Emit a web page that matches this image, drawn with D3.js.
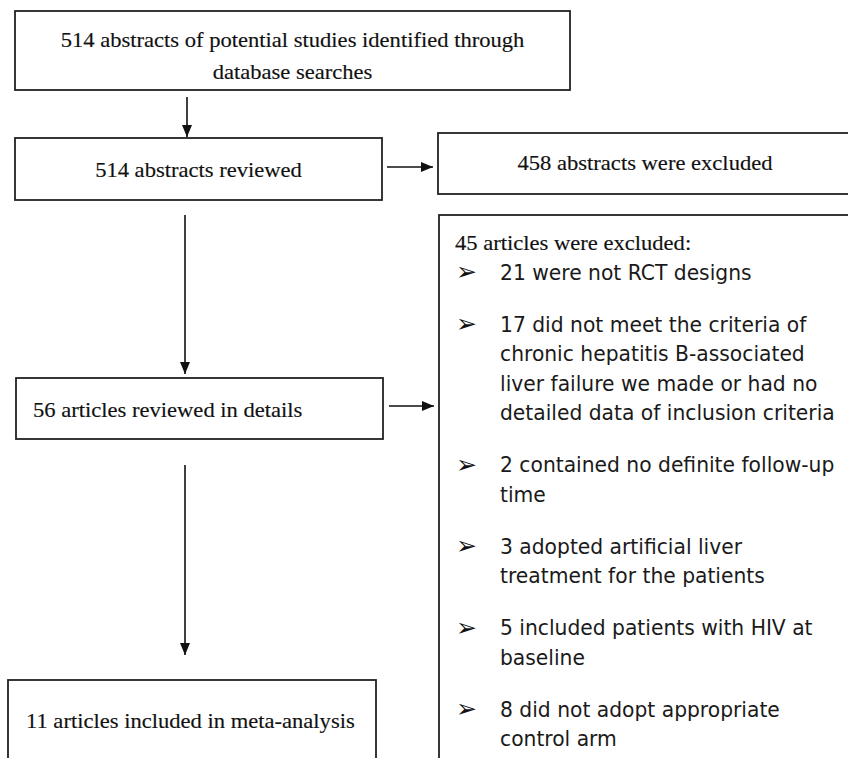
<!DOCTYPE html>
<html>
<head>
<meta charset="utf-8">
<script src="https://cdn.jsdelivr.net/npm/d3@7"></script>
<style>
  body { margin: 0; background: #fff; }
  svg { display: block; }
</style>
</head>
<body>
<div id="chart"></div>
<script>
// flow counts + labels ("{n}" gets the count)
const mainCounts = [514, 514, 56, 11];
const mainLabels = [
  ["{n} abstracts of potential studies identified through", "database searches"],
  ["{n} abstracts reviewed"],
  ["{n} articles reviewed in details"],
  ["{n} articles included in meta-analysis"]
];
const excludedCounts = [458, 45];
const excludedLabels = ["{n} abstracts were excluded", "{n} articles were excluded:"];
const reasonCounts = [21, 17, 2, 3, 5, 8];
const reasonLines = [
  ["{n} were not RCT designs"],
  ["{n} did not meet the criteria of", "chronic hepatitis B-associated", "liver failure we made or had no", "detailed data of inclusion criteria"],
  ["{n} contained no definite follow-up", "time"],
  ["{n} adopted artificial liver", "treatment for the patients"],
  ["{n} included patients with HIV at", "baseline"],
  ["{n} did not adopt appropriate", "control arm"]
];

var width = 848, height = 758;
var fill = (s, n) => s.replace("{n}", n);

var svg = d3.select("#chart").append("svg")
  .attr("width", width)
  .attr("height", height);

var defs = svg.append("defs");
defs.append("marker")
  .attr("id", "head")
  .attr("viewBox", "0 0 12 10")
  .attr("refX", 12).attr("refY", 5)
  .attr("markerWidth", 12).attr("markerHeight", 10)
  .attr("markerUnits", "userSpaceOnUse")
  .attr("orient", "auto")
  .append("path").attr("d", "M0,0L12,5L0,10Z").attr("fill", "#111");

// box layout (left column, right column)
var mainBoxes = [
  {x0: 15, x1: 570, y0: 11, y1: 90, anchor: "middle", lineY: [40, 72]},
  {x0: 15, x1: 382, y0: 138, y1: 200, anchor: "middle", lineY: [170]},
  {x0: 16, x1: 383, y0: 378, y1: 439, anchor: "start", tx: 33, lineY: [410]},
  {x0: 8, x1: 376, y0: 680, y1: 775, anchor: "start", tx: 26, lineY: [721]}
];
var sideBoxes = [
  {x0: 438, x1: 855, y0: 133, y1: 194, anchor: "middle", tx: 645, lineY: [163]},
  {x0: 439, x1: 860, y0: 215, y1: 775, anchor: "start", tx: 455, lineY: [243]}
];

var serif = "'Liberation Serif', 'Times New Roman', serif";
var sans = "'DejaVu Sans', Tahoma, Verdana, sans-serif";

function drawBox(b) {
  svg.append("rect")
    .attr("x", b.x0).attr("y", b.y0)
    .attr("width", b.x1 - b.x0).attr("height", b.y1 - b.y0)
    .attr("fill", "none").attr("stroke", "#222").attr("stroke-width", 1.8);
}
mainBoxes.forEach(drawBox);
sideBoxes.forEach(drawBox);

// serif labels
var serifTexts = [];
mainBoxes.forEach(function (b, i) {
  mainLabels[i].forEach(function (l, j) {
    serifTexts.push({txt: fill(l, mainCounts[i]), x: b.anchor == "middle" ? (b.x0 + b.x1) / 2 : b.tx, y: b.lineY[j], anchor: b.anchor});
  });
});
sideBoxes.forEach(function (b, i) {
  serifTexts.push({txt: fill(excludedLabels[i], excludedCounts[i]), x: b.tx, y: b.lineY[0], anchor: b.anchor});
});

var sText = svg.append("g").selectAll("text")
  .data(serifTexts).enter().append("text")
  .attr("font-family", serif)
  .attr("font-size", 20)
  .attr("fill", "#111")
  .attr("stroke", "#111")
  .attr("stroke-width", 0.15)
  .attr("text-anchor", d => d.anchor)
  .text(d => d.txt);

// squeeze width to match the original face
var kSerif = 464 / sText.nodes()[0].getComputedTextLength();
sText.attr("transform", d => "translate(" + d.x + "," + (d.y + 7) + ") scale(" + kSerif + ",1)");

// reasons list
var lineH = 29.5, gap = 52;
var rows = [];
var yy = 272;
reasonLines.forEach(function (lines, i) {
  if (i > 0) yy += gap;
  lines.forEach(function (l, j) {
    if (j > 0) yy += lineH;
    rows.push({txt: fill(l, reasonCounts[i]), y: yy, first: j == 0});
  });
});

var y = d3.scaleIdentity();

var rText = svg.append("g").selectAll("text")
  .data(rows).enter().append("text")
  .attr("font-family", sans)
  .attr("font-size", 20.5)
  .attr("fill", "#1a1a1a")
  .text(d => d.txt);

var refNode = rText.filter(d => d.txt.startsWith("detailed")).node();
var kSans = 335 / refNode.getComputedTextLength();
rText.attr("transform", d => "translate(500," + (y(d.y) + 7.5) + ") scale(" + kSans + ",1)");

svg.append("g").selectAll("text")
  .data(rows.filter(d => d.first)).enter().append("text")
  .attr("x", 456)
  .attr("y", d => y(d.y) + 8)
  .attr("font-family", sans)
  .attr("font-size", 25)
  .attr("fill", "#111")
  .text("\u27A2");

// arrows
var arrows = [
  [[187, 97], [187, 137]],
  [[387, 167], [433, 167]],
  [[185, 215], [185, 374]],
  [[389, 406], [434, 406]],
  [[185, 465], [185, 655]]
];
svg.append("g").selectAll("path")
  .data(arrows).enter().append("path")
  .attr("d", d3.line())
  .attr("stroke", "#111")
  .attr("stroke-width", 1.6)
  .attr("fill", "none")
  .attr("marker-end", "url(#head)");
</script>
</body>
</html>
